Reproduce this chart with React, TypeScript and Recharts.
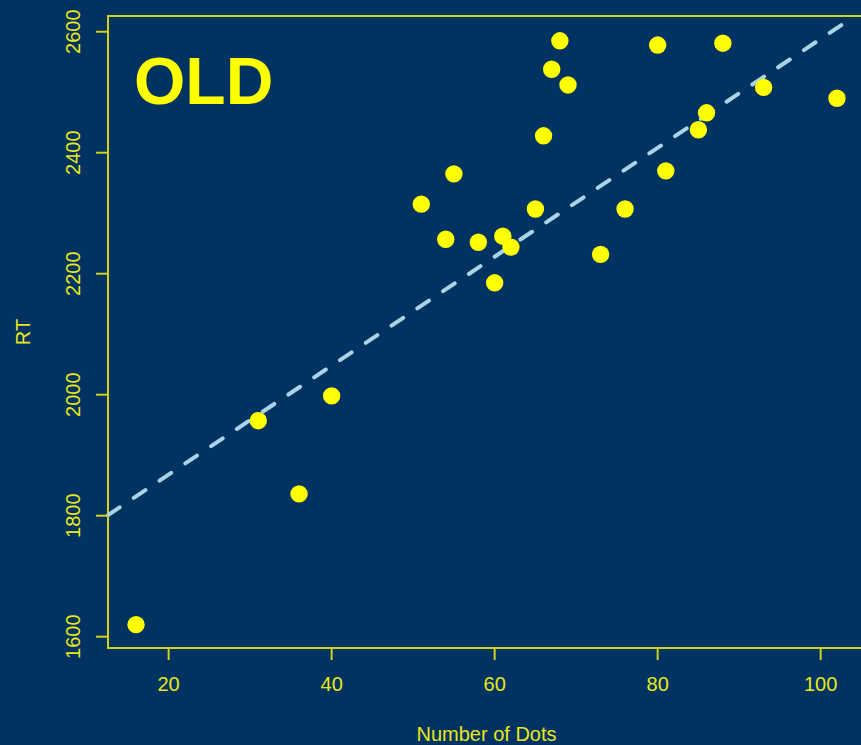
import React from "react";
import { ScatterChart, Scatter, XAxis, YAxis, ReferenceLine, ReferenceArea } from "recharts";

const dots = [16, 31, 36, 40, 51, 54, 55, 58, 60, 61, 62, 65, 66, 67, 68, 69, 73, 76, 80, 81, 85, 86, 88, 93, 102];
const rt = [1620, 1957, 1836, 1998, 2315, 2257, 2365, 2252, 2185, 2262, 2244, 2307, 2428, 2538, 2585, 2512, 2232, 2307, 2578, 2370, 2438, 2466, 2581, 2508, 2490];
const xTicks = [20, 40, 60, 80, 100];
const yTicks = [1600, 1800, 2000, 2200, 2400, 2600];
const fitStart = { x: 12.56, y: 1801 };
const fitEnd = { x: 104.2, y: 2626 };
const xDomain: [number, number] = [12.56, 105.44];
const yDomain: [number, number] = [1581.3, 2626];

const points = dots.map((d, i) => ({ x: d, y: rt[i] }));

const BG = "#003262";
const AXIS = "#d2d21e";
const TEXT = "#e8e81a";
const FONT = "'Liberation Sans', Arial, Helvetica, sans-serif";

const XTick = (props: any) => {
  const { x, y, payload } = props;
  return (
    <text x={x} y={y + 29} textAnchor="middle" fill={TEXT} fontSize={20} fontFamily={FONT}>
      {payload.value}
    </text>
  );
};

const YTick = (props: any) => {
  const { x, y, payload } = props;
  const bx = x - 14;
  return (
    <text
      x={bx}
      y={y}
      textAnchor="middle"
      fill={TEXT}
      fontSize={20}
      fontFamily={FONT}
      transform={`rotate(-90, ${bx}, ${y})`}
    >
      {payload.value}
    </text>
  );
};

const Dot = (props: any) => {
  const { cx, cy } = props;
  return <circle cx={cx} cy={cy} r={8.7} fill="#ffff00" />;
};

export default function App() {
  return (
    <div
      style={{
        position: "absolute",
        left: 0,
        top: 0,
        width: 861,
        height: 745,
        overflow: "hidden",
        background: BG,
      }}
    >
      <ScatterChart width={880} height={745} margin={{ top: 16, right: 15, bottom: 0, left: 0 }}>
        <XAxis
          type="number"
          dataKey="x"
          domain={xDomain}
          ticks={xTicks}
          allowDataOverflow
          height={97}
          tickSize={12}
          axisLine={false}
          tickLine={{ stroke: AXIS, strokeWidth: 2 }}
          tick={<XTick />}
          label={(p: any) => {
            const vb = p.viewBox;
            return (
              <text
                x={vb.x + vb.width / 2}
                y={vb.y + 93}
                textAnchor="middle"
                fill={TEXT}
                fontSize={20}
                fontFamily={FONT}
              >
                Number of Dots
              </text>
            );
          }}
        />
        <YAxis
          type="number"
          dataKey="y"
          domain={yDomain}
          ticks={yTicks}
          allowDataOverflow
          width={108}
          tickSize={12}
          axisLine={false}
          tickLine={{ stroke: AXIS, strokeWidth: 2 }}
          tick={<YTick />}
          label={(p: any) => {
            const vb = p.viewBox;
            const lx = vb.x + 30;
            const ly = vb.y + vb.height / 2;
            return (
              <text
                x={lx}
                y={ly}
                textAnchor="middle"
                fill={TEXT}
                fontSize={20}
                fontFamily={FONT}
                transform={`rotate(-90, ${lx}, ${ly})`}
              >
                RT
              </text>
            );
          }}
        />
        <ReferenceArea
          x1={xDomain[0]}
          x2={xDomain[1]}
          y1={yDomain[0]}
          y2={yDomain[1]}
          fill="none"
          fillOpacity={0}
          stroke={AXIS}
          strokeWidth={2}
          ifOverflow="visible"
        />
        <Scatter data={points} shape={<Dot />} isAnimationActive={false} />
        <ReferenceLine
          segment={[fitStart, fitEnd]}
          stroke="#a8d4e6"
          strokeWidth={4}
          strokeDasharray="14 17"
          strokeLinecap="round"
          ifOverflow="visible"
        />
      </ScatterChart>
      <svg
        width={861}
        height={745}
        style={{ position: "absolute", left: 0, top: 0, pointerEvents: "none" }}
      >
        <text x={134} y={104} fill="#ffff00" fontSize={66} fontWeight="bold" fontFamily={FONT}>
          OLD
        </text>
      </svg>
    </div>
  );
}
